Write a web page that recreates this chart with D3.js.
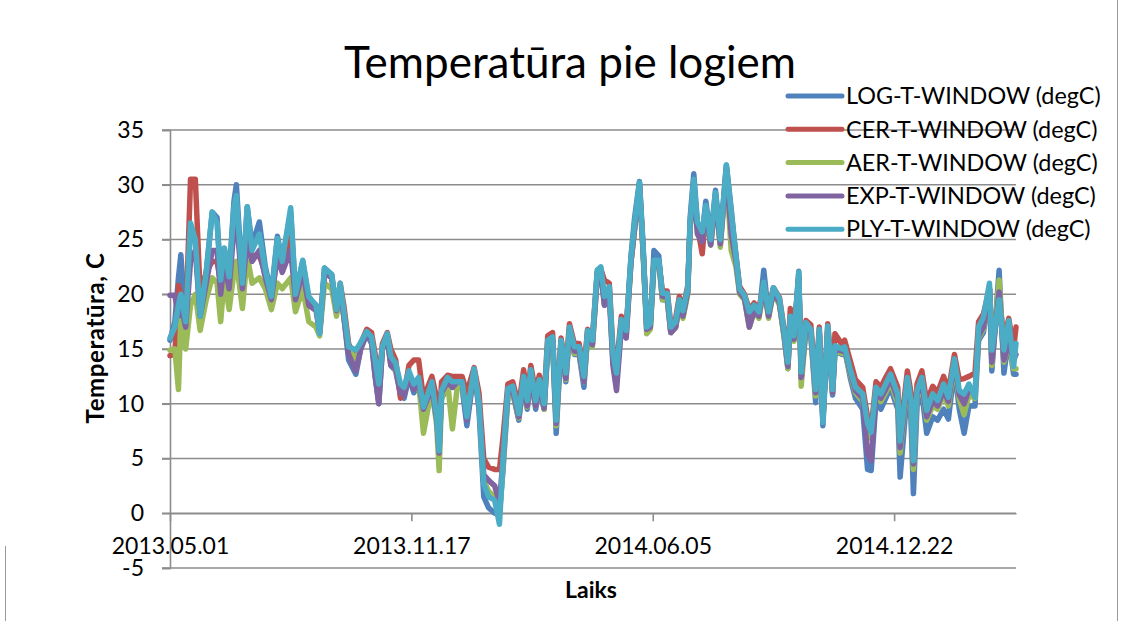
<!DOCTYPE html>
<html>
<head>
<meta charset="utf-8">
<script src="https://cdn.jsdelivr.net/npm/d3@7"></script>
<style>
  body { margin: 0; background: #fff; }
  svg { font-family: Lato, "Open Sans", sans-serif; }
</style>
</head>
<body>
<script>
// start date and day offsets of the readings
var startDate = "2013.05.01";
var days = [
  0,4,7,9,13,17,21,25,30,35,39,42,45,49,53,55,60,64,68,74,79,84,89,93,100,104,110,115,121,124,128,134,138,
  141,144,148,154,158,163,167,170,173,176,180,183,187,191,194,198,202,206,210,217,221,223,225,230,234,238,242,246,252,256,260,264,269,273,276,
  280,284,289,293,296,299,303,306,310,313,317,320,324,328,331,335,339,343,346,350,354,357,360,364,367,370,374,378,382,385,389,392,395,398,401,405,408,412,415,419,422,
  425,429,431,434,437,441,444,448,452,456,461,465,469,472,476,480,484,488,492,496,500,505,509,512,514,517,521,523,527,531,535,538,541,545,549,551,557,
  559,564,568,574,578,581,585,589,593,597,603,605,611,614,616,619,623,627,632,636,641,645,650,654,658,662,667,670,674,679,681,687,691,695,699,701
];

var logT = [
  15.8,17.5,21.5,23.6,17.5,26,25,18,22,27.5,27,21.3,24.2,21.6,28.5,30,21,28,24.5,26.6,22.5,20,25.3,23,27.5,20,23,19.5,19,16.5,22.4,21.8,18.3,
  20.5,18,14,12.7,15,16.4,15.5,12.5,10,15,16,13.5,13,10.8,10.5,12.5,11,11.8,9.5,11,8.5,7,10.5,11.5,11.5,11.5,11.5,8,13,9.5,1.5,0.5,0,0,4,
  10.8,11,8.5,12,9.5,12.5,9.5,11.5,9.5,15,15.8,7.3,15.5,12,16.5,14.5,14.5,11.5,16.3,15.5,22,22.3,19,20.5,14,12.5,17.5,16.5,23.5,27,30.3,24.5,16.8,17,24,23.5,19.5,19.5,16.5,17,19,
  18,20.3,27,31,26.5,25.5,28.5,25,29.5,25,31.8,27.8,23.3,20.3,19.6,18,18.6,18,22.2,18,20.5,19.2,16,13.2,17.5,15.8,22.1,12.3,17,16.3,10.1,16.5,8,16.8,10.8,14.8,14.5,
  15,12.2,10.5,9.5,4,3.9,10.3,9.5,10.5,11.5,9.5,3.3,11.2,8.5,1.8,9.8,11,7.3,8.8,8.5,9.5,8.6,13.2,9.5,7.3,9.8,9.8,15.8,16.5,20.5,13,22.2,12.8,16,12.7,12.7
];
var cerT = [
  14.4,14.5,20.8,20,17,30.5,30.5,20,22,23,23,21,23,21.5,27,28,21,26,23.5,23.5,22,19.5,24,22.5,26,19.5,22.5,19.5,19,16.5,22,21.5,18.6,
  21,19,15.5,14,15.5,16.8,16.5,14.5,12,15.5,16.5,15,14,10.5,11,13.5,14,14,10.5,12.5,10.5,8,12,12.6,12.5,12.5,12.5,11,13.3,11,5,4.2,4,4,7,
  11.8,12,9.8,13.1,10.8,13.5,11,12.6,10.5,16.2,16.5,9,16,13.3,17.3,15.5,15.5,13,16.8,16,22,22.3,21.3,21,15,13.5,18,17,23,26,29.8,24,17.3,17.5,23,23,20.3,20.3,17.2,17.8,19.8,
  18.6,20.8,26.3,30,26.2,23.7,27.6,24.6,29,24.6,31.5,27.2,23.5,20.7,20,18.6,19.2,18.6,21,18.6,20.6,19.7,16.7,14,18.7,16.5,21.5,13.3,17.6,17.2,11.8,17,8.8,17.3,12,16.4,15.4,
  15.8,13.8,12.2,11.5,8.8,7.8,12,11.5,12.4,13.2,11.5,7.2,13,11,5.5,11.8,13,10.2,11.6,11,12.5,11.2,14.5,12.2,12.3,12.5,12.8,17.5,18.2,20.5,16,19.8,16,17.8,15,17
];
var aerT = [
  14.9,15,11.3,18,15,19,20,16.7,19.5,21.5,21,17.5,21.5,18.6,22,23,18.7,23.5,21,21.5,20.5,18.6,21,20.5,21.5,18.4,20.5,17.5,17,16.2,21,20.5,18,
  20.5,18,15,14,15.5,16.5,15.8,13,11,15,16,13.8,13,11.5,11,12.5,11.5,12,7.3,11.5,8,3.9,10.5,12,7.7,11.5,11.5,9,13,10,3,2,1.5,0,4.5,
  10.8,11,8.7,12,9.7,12.6,9.8,11.8,9.5,15.2,15.6,8,15.2,12.2,16.5,14.6,14.6,12,16,15.2,21.5,22,19.2,20.2,14,12,17.2,16.2,23,26,29.8,23.8,16.4,16.8,22.6,22.8,19.5,19.5,16.5,17,19,
  17.8,20,26,29.5,25.8,25,27.5,24.5,28.5,24.3,31,24,22.5,20,19.5,17,18.4,17.8,20.5,17.8,20.2,19,16,13.2,17.6,15.7,21.4,11.6,16.8,16.2,10.7,16.2,8.6,16.6,11,14.8,14.6,
  14.8,12.6,11,10.2,7.2,6.8,10.8,10.2,11,12,10,5.5,11.8,9.5,4,10.5,11.8,8.5,9.8,9.5,10.8,9.8,13.6,10.4,9,10.8,10.5,16,16.8,20.6,13.5,21.3,13.8,15.8,13.2,13.2
];
var expT = [
  19.9,19.9,18,19,17,23,24,18,21,24,24,20,23,20.5,26,27,20.5,25,23,24,21.5,19.5,23.5,22,24,19.5,22,19,18.5,16.5,22,21.5,18.5,
  20.5,18,14.5,13,15,16.4,15.8,12.5,10,15,16,13.5,13.2,11,10.8,12.5,11.3,12,9.5,11.5,8.5,5.5,11,12,11.5,12,12,8.5,13,10,3.5,3,2.5,1,5,
  11,11.2,8.8,12,9.8,12.6,9.8,11.8,9.6,15.3,15.8,8.2,15.4,12.3,16.8,14.8,14.8,12,16.5,15.4,21.5,22,19,20,13.5,11.2,17,16,23,26,30,24,16.8,17,22.8,23,19.8,19.8,16.5,17,19.2,
  18,20.2,26.3,30,25.5,24.8,27.7,24.5,28.8,24.6,31.3,25.5,23,20.2,19.6,17,18.5,18,20.8,18,20.3,19.2,16.2,13.4,17.7,15.9,21.6,12.4,17,16.4,11,16.5,8.6,16.8,11,15,14.8,
  15,12.8,11.2,10.5,5.4,4.8,11,10.5,11.3,12.3,10.4,6,12,9.8,4.5,10.8,12,8.8,10.3,9.8,11.2,10.2,13.8,10.8,10,11.3,11,16.2,17,20.5,13.8,20.2,14,15.5,14,14.5
];
var plyT = [
  16,17,19,20,17.5,26.5,25,18,22,27.5,26.5,21.3,24.2,21.6,28,29,21,28,24,25.5,22.2,19.8,25.1,23,27.9,20,23.1,19.8,19,16.4,22.4,21.8,18.6,
  21,18.5,15.2,14.9,15.6,16.6,16.1,14,11.8,15.2,16.4,14.3,13.7,11.8,11.5,13,11.8,12.4,9.7,12,8.8,5.7,11.2,12.4,12,12,12,8.8,13.2,10,2.7,1.5,1.2,-1,5,
  11.4,11.6,9.1,12.5,10.3,13.1,10.3,12.2,10,15.8,16.1,8.5,15.8,12.8,17,15.2,15.2,12.5,16.7,15.8,22.2,22.5,19.8,20.7,14.6,12.8,17.7,16.7,23.4,26.5,30.2,24.3,17,17.3,23.1,23.1,20.1,20.1,17,17.5,19.5,
  18.5,20.5,26.6,30.5,26.6,25.7,28.1,25,29.3,25,31.8,27.5,23.5,20.5,19.9,18.4,19,18.4,21.1,18.4,20.6,19.6,16.5,13.8,18,16.2,22,12.9,17.4,16.8,11.3,16.8,8.3,17.1,11.3,15.3,15,
  15.2,13,11.5,10.9,8.2,7.4,11.5,10.9,11.8,12.7,10.9,6.6,12.4,10.3,4.8,11.2,12.4,9.4,10.9,10.3,11.8,10.6,14.1,11.2,10.9,11.8,10.6,17,17.9,21,14.9,19.5,14.9,17.6,13.4,15.5
];

var seriesNames = ["LOG-T-WINDOW (degC)", "CER-T-WINDOW (degC)", "AER-T-WINDOW (degC)", "EXP-T-WINDOW (degC)", "PLY-T-WINDOW (degC)"];
var seriesValues = [logT, cerT, aerT, expT, plyT];
var seriesColors = ["#4f81bd", "#c0504d", "#9bbb59", "#8064a2", "#4bacc6"];
var xTickLabels = ["2013.05.01", "2013.11.17", "2014.06.05", "2014.12.22"];
var yTicks = [-5, 0, 5, 10, 15, 20, 25, 30, 35];
var endDay = 701;

var W = 1124, H = 621;
var font = "Lato, 'Open Sans', sans-serif";
var parseDay = d3.timeParse("%Y.%m.%d");
var formatDay = d3.timeFormat("%Y.%m.%d");
var t0 = parseDay(startDate);

var svg = d3.select("body").append("svg")
    .attr("width", W)
    .attr("height", H);

// chart border pieces
svg.append("line").attr("x1", 1117.5).attr("x2", 1117.5).attr("y1", 0).attr("y2", H)
    .attr("stroke", "#9a9a9a").attr("stroke-width", 1);
svg.append("line").attr("x1", 5.5).attr("x2", 5.5).attr("y1", 546).attr("y2", H)
    .attr("stroke", "#9a9a9a").attr("stroke-width", 1);

var x = d3.scaleTime()
    .domain([t0, d3.timeDay.offset(t0, endDay)])
    .range([170, 1016]);
var y = d3.scaleLinear().domain([-5, 35]).range([568, 130]);

// gridlines (they also form the y tick marks)
svg.append("g")
  .selectAll("line")
  .data(yTicks)
  .enter().append("line")
    .attr("x1", 162).attr("x2", 1016)
    .attr("y1", function(d) { return y(d); })
    .attr("y2", function(d) { return y(d); })
    .attr("stroke", "#8c8c8c")
    .attr("stroke-width", 1.6);

// y axis
var yAxis = svg.append("g")
    .attr("transform", "translate(170,0)")
    .call(d3.axisLeft(y).tickValues(yTicks)
      .tickFormat(function(d) { return String(d); })
      .tickSize(8).tickPadding(18));
yAxis.attr("font-family", font);
yAxis.select(".domain").attr("stroke", "#8c8c8c").attr("stroke-width", 1.6);
yAxis.selectAll(".tick line").attr("stroke", "#8c8c8c").attr("stroke-width", 1.6);
yAxis.selectAll("text").style("font-size", "23px").attr("fill", "#000");

// x axis crosses at 0
var xAxis = svg.append("g")
    .attr("transform", "translate(0," + y(0) + ")")
    .call(d3.axisBottom(x)
      .tickValues(xTickLabels.map(parseDay))
      .tickFormat(formatDay)
      .tickSize(8)
      .tickSizeOuter(0)
      .tickPadding(16));
xAxis.attr("font-family", font);
xAxis.select(".domain").attr("stroke", "#8c8c8c").attr("stroke-width", 1.6);
xAxis.selectAll(".tick line").attr("stroke", "#8c8c8c").attr("stroke-width", 1.6);
xAxis.selectAll("text").style("font-size", "23px").attr("fill", "#000");

// lines
var line = d3.line()
    .x(function(d, i) { return x(d3.timeDay.offset(t0, days[i])); })
    .y(function(d) { return y(d); });

svg.append("g")
  .selectAll("path")
  .data(seriesValues)
  .enter().append("path")
    .attr("d", line)
    .attr("fill", "none")
    .attr("stroke", function(d, i) { return seriesColors[i]; })
    .attr("stroke-width", 5.5)
    .attr("stroke-linejoin", "round")
    .attr("stroke-linecap", "round");

// title
svg.append("text")
    .attr("x", 570)
    .attr("y", 78)
    .style("text-anchor", "middle")
    .style("font-size", "44px")
    .text("Temperatūra pie logiem");

// axis titles
svg.append("text")
    .attr("transform", "translate(104,338) rotate(-90)")
    .style("text-anchor", "middle")
    .style("font-size", "24px")
    .style("font-weight", "bold")
    .style("letter-spacing", "0.6px")
    .text("Temperatūra, C");

svg.append("text")
    .attr("x", 591)
    .attr("y", 598)
    .style("text-anchor", "middle")
    .style("font-size", "23px")
    .style("font-weight", "bold")
    .text("Laiks");

// legend
var legend = svg.append("g")
  .selectAll("g")
  .data(seriesNames)
  .enter().append("g")
    .attr("transform", function(d, i) { return "translate(788," + (96 + i * 33.3) + ")"; });

legend.append("line")
    .attr("x1", 0).attr("x2", 54)
    .attr("stroke", function(d, i) { return seriesColors[i]; })
    .attr("stroke-width", 5)
    .attr("stroke-linecap", "round");

legend.append("text")
    .attr("x", 58)
    .attr("dy", "0.35em")
    .style("font-size", "23.4px")
    .text(function(d) { return d; });
</script>
</body>
</html>
